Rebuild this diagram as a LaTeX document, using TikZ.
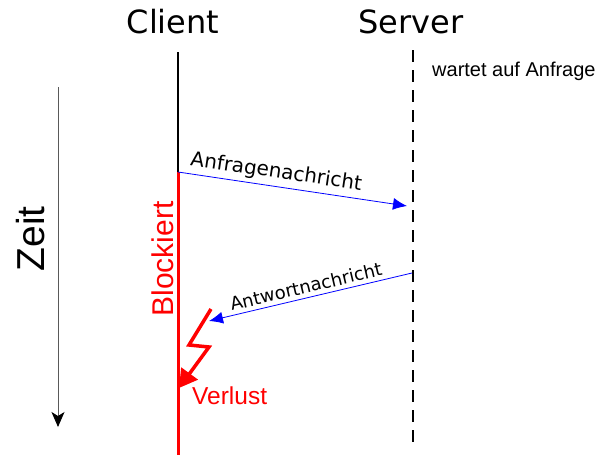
\documentclass[tikz,border=0pt]{standalone}
\usepackage{fontspec}
\setmainfont{DejaVu Sans}
\newfontfamily\arialfont{Liberation Sans}
\usetikzlibrary{arrows.meta}
\begin{document}
\begin{tikzpicture}[x=1pt,y=-1pt,
  title/.style={font=\fontsize{32}{34}\selectfont, inner sep=0pt},
  msg/.style={blue, line width=0.8pt, -{Latex[length=14pt,width=12pt]}},
  msglabel/.style={black, inner sep=0pt, sloped},
  redtext/.style={red, inner sep=0pt}]
\useasboundingbox (0,0) rectangle (604,455);

% lifeline headers
\node[title] (client) at (173,22) {Client};
\node[title] (server) at (411,22) {Server};

% lifeline end points
\coordinate (cTop) at (178,52);
\coordinate (cSend) at (178,172);
\coordinate (cBot) at (178,455);
\coordinate (sTop) at (413,50);
\coordinate (sBot) at (413,446);
\coordinate (sRecv) at (407,206);
\coordinate (sSend) at (412,273);
\coordinate (cRecv) at (209,321);

% client lifeline: idle then blocked
\draw[line width=1.4pt] (cTop) -- (cSend);
\draw[red, line width=3pt] (cSend) -- (cBot);

% server lifeline
\draw[line width=2.4pt, dash pattern=on 12pt off 8pt] (sTop) -- (sBot);
\node[font=\arialfont\fontsize{20}{22}\selectfont, anchor=west, inner sep=0pt] (wait) at (432,71) {wartet auf Anfrage};

% time axis
\coordinate (tTop) at (58,87);
\coordinate (tBot) at (58,427);
\draw[gray!70!black, line width=1pt, -{Stealth[length=15pt,width=13pt,inset=4pt,black]}] (tTop) -- (tBot);
\node[font=\arialfont\fontsize{39}{41}\selectfont, rotate=90, inner sep=0pt] (zeit) at (31,239) {Zeit};

% messages
\draw[msg] (cSend) -- node[msglabel, font=\fontsize{20}{22}\selectfont, above=4pt, pos=0.42] {Anfragenachricht} (sRecv);
\draw[msg] (sSend) -- node[msglabel, font=\fontsize{18}{20}\selectfont, above=4pt, pos=0.51] {Antwortnachricht} (cRecv);

% blocked state
\node[redtext, font=\arialfont\fontsize{30}{32}\selectfont, rotate=90] (block) at (163,259) {Blockiert};

% lost reply
\coordinate (z0) at (211,309);
\coordinate (z1) at (189,345);
\coordinate (z2) at (209,347);
\coordinate (z3) at (179,388);
\draw[red, line width=3.5pt, line join=miter, -{Triangle[length=18pt,width=20pt]}] (z0) -- (z1) -- (z2) -- (z3);
\node[redtext, font=\arialfont\fontsize{24.5}{26}\selectfont, anchor=west] (lost) at (192,396) {Verlust};
\end{tikzpicture}
\end{document}
